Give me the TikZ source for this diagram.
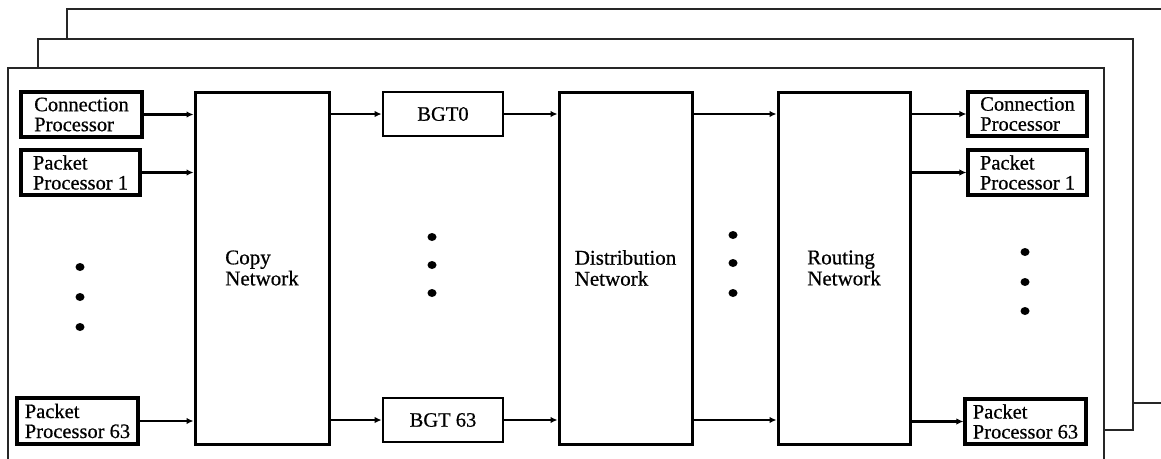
\documentclass[tikz,border=0pt]{standalone}
\usepackage{fontspec}
\setmainfont{Liberation Serif}
\newfontfamily\lblfont[FakeBold=0.6]{Liberation Serif}
\usetikzlibrary{arrows.meta}
\tikzset{
  frame/.style={draw=black!85, line width=1.1pt, fill=white},
  smallbox/.style={draw, line width=3.2pt, inner sep=0pt, align=left, font=\lblfont\fontsize{20.5}{20}\selectfont},
  bigbox/.style={draw, line width=3pt, inner sep=0pt, align=left, font=\lblfont\fontsize{21}{21}\selectfont},
  arr/.style={line width=2.4pt, -{Latex[length=7pt,width=6.5pt]}},
  dot/.style={fill=black}
}
\begin{document}
\begin{tikzpicture}[x=1pt,y=-1pt]
\clip (0,0) rectangle (1161,458);
\fill[white] (0,0) rectangle (1161,458);
% stacked frames
\draw[frame] (67,9) rectangle (1175,403);
\draw[frame] (38,39) rectangle (1133,430);
\draw[frame] (8,68) rectangle (1104,462);
% left boxes
\node[smallbox, minimum width=121pt, minimum height=45pt] (cpl) at (81.5,114.5) {Connection\\Processor};
\node[smallbox, minimum width=119pt, minimum height=45pt] (ppl1) at (80.5,172.5) {Packet\\Processor 1};
\node[smallbox, minimum width=121pt, minimum height=46pt] (ppl63) at (77.5,421) {Packet\\Processor 63};
% big boxes
\node[bigbox, minimum width=134pt, minimum height=352pt] (copy) at (262,268) {Copy\\Network};
\node[bigbox, minimum width=133pt, minimum height=352pt] (dist) at (625.5,268) {Distribution\\Network};
\node[bigbox, minimum width=132pt, minimum height=352pt] (rout) at (844,268) {Routing\\Network};
% BGT boxes
\node[smallbox, line width=2.8pt, minimum width=120pt, minimum height=44pt] (bgt0) at (443,114) {BGT0};
\node[smallbox, line width=2.8pt, minimum width=120pt, minimum height=44pt] (bgt63) at (443,420) {BGT 63};
% right boxes
\node[smallbox, minimum width=119pt, minimum height=44pt] (cpr) at (1027.5,114) {Connection\\Processor};
\node[smallbox, minimum width=119pt, minimum height=45pt] (ppr1) at (1027.5,172.5) {Packet\\Processor 1};
\node[smallbox, minimum width=121pt, minimum height=45pt] (ppr63) at (1025.5,421.5) {Packet\\Processor 63};
% arrows
\draw[arr] (cpl.east) -- (cpl.east -| copy.west);
\draw[arr] (ppl1.east) -- (ppl1.east -| copy.west);
\draw[arr] (ppl63.east) -- (ppl63.east -| copy.west);
\draw[arr] (copy.east |- bgt0.west) -- (bgt0.west);
\draw[arr] (copy.east |- bgt63.west) -- (bgt63.west);
\draw[arr] (bgt0.east) -- (bgt0.east -| dist.west);
\draw[arr] (bgt63.east) -- (bgt63.east -| dist.west);
\draw[arr] (dist.east |- bgt0.east) -- (bgt0.east -| rout.west);
\draw[arr] (dist.east |- bgt63.east) -- (bgt63.east -| rout.west);
\draw[arr] (rout.east |- cpr.west) -- (cpr.west);
\draw[arr] (rout.east |- ppr1.west) -- (ppr1.west);
\draw[arr] (rout.east |- ppr63.west) -- (ppr63.west);
% dots
\foreach \y in {267,297,327} \fill[dot] (80,\y) ellipse (4.5pt and 4pt);
\foreach \y in {237,265,293} \fill[dot] (432,\y) ellipse (4.5pt and 4pt);
\foreach \y in {235,263,293} \fill[dot] (733,\y) ellipse (4.5pt and 4pt);
\foreach \y in {252,282,311} \fill[dot] (1025,\y) ellipse (4.5pt and 4pt);
\end{tikzpicture}
\end{document}
